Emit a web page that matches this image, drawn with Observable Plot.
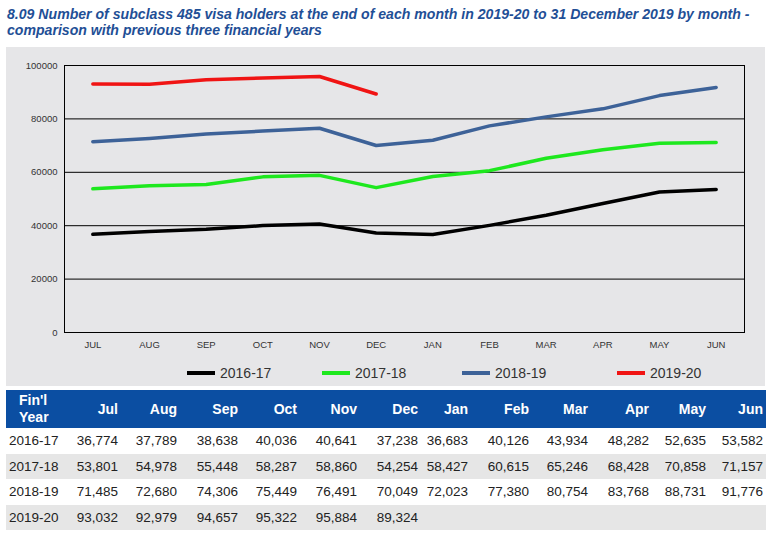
<!DOCTYPE html>
<html><head><meta charset="utf-8">
<script src="https://cdn.jsdelivr.net/npm/d3@7"></script>
<script src="https://cdn.jsdelivr.net/npm/@observablehq/plot@0.6"></script>
<style>
body{margin:0;background:#fff;font-family:Arial,"Liberation Sans",sans-serif;}
#wrap{position:relative;width:773px;height:539px;overflow:hidden;}
.title{position:absolute;left:7px;color:#1f4f96;font-weight:bold;font-style:italic;font-size:14.1px;line-height:16px;white-space:nowrap;}
#panel{position:absolute;left:6px;top:47px;width:759px;height:339px;background:#e6e6e8;}
#chart{position:absolute;left:0;top:0;}
.leg{position:absolute;top:318px;height:16px;display:flex;align-items:center;font-size:14px;color:#333;}
.leg span.sw{display:inline-block;width:28px;height:4px;margin-right:5px;}
#tbl{position:absolute;left:6px;top:390px;border-collapse:collapse;table-layout:fixed;}
#tbl th{background:#0b4ea2;color:#fff;font-weight:bold;font-size:14px;height:38px;padding:0 3px 0 0;text-align:right;line-height:17px;}
#tbl th.first{text-align:left;padding-left:13px;}
#tbl td{font-size:13.5px;color:#222;height:25.5px;padding:0 3px 0 0;text-align:right;}
#tbl td.first{text-align:left;padding-left:3px;}
#tbl tr.alt td{background:#e6e6e6;}
</style>
</head><body>
<div id="wrap">
  <div class="title" style="top:6px;width:770px;">8.09 Number of subclass 485 visa holders at the end of each month in 2019-20 to 31 December 2019 by month -</div>
  <div class="title" style="top:22px;">comparison with previous three financial years</div>
  <div id="panel"><div id="chart"></div></div>
  <table id="tbl"></table>
</div>
<script>
const months = ["JUL","AUG","SEP","OCT","NOV","DEC","JAN","FEB","MAR","APR","MAY","JUN"];
const monthHeaders = ["Jul","Aug","Sep","Oct","Nov","Dec","Jan","Feb","Mar","Apr","May","Jun"];
const years = ["2016-17","2017-18","2018-19","2019-20"];
const v2016 = [36774,37789,38638,40036,40641,37238,36683,40126,43934,48282,52635,53582];
const v2017 = [53801,54978,55448,58287,58860,54254,58427,60615,65246,68428,70858,71157];
const v2018 = [71485,72680,74306,75449,76491,70049,72023,77380,80754,83768,88731,91776];
const v2019 = [93032,92979,94657,95322,95884,89324];
const yTicks = [0,20000,40000,60000,80000,100000];

const seriesValues = [v2016, v2017, v2018, v2019];
const colors = ["#000000","#1ee81e","#3d6298","#f01414"];

const data = [];
seriesValues.forEach((vals, i) => vals.forEach((v, j) => data.push({year: years[i], month: months[j], value: v})));

const chart = Plot.plot({
  width: 759, height: 307,
  marginLeft: 58, marginRight: 21, marginTop: 18, marginBottom: 22,
  style: {background: "transparent", fontFamily: "Arial, 'Liberation Sans', sans-serif", fontSize: "9.5px", color: "#333"},
  x: {type: "point", domain: months, padding: 0.5, round: false, label: null, tickSize: 0, tickPadding: 9},
  y: {domain: [0, 100000], ticks: yTicks, tickFormat: d3.format("d"), label: null, tickSize: 0, tickPadding: 7},
  color: {domain: years, range: colors},
  marks: [
    Plot.ruleY(yTicks.filter(d => d > 0 && d < 100000), {stroke: "#000", strokeWidth: 1}),
    Plot.frame({stroke: "#000", strokeWidth: 1}),
    Plot.line(data, {x: "month", y: "value", z: "year", stroke: "year", strokeWidth: 3.5})
  ]
});
document.getElementById("chart").appendChild(chart);

// legend
const legLeft = [181, 316, 456, 611];
const panel = document.getElementById("panel");
years.forEach((y, i) => {
  const d = document.createElement("div");
  d.className = "leg";
  d.style.left = legLeft[i] + "px";
  d.innerHTML = `<span class="sw" style="background:${colors[i]}"></span>${y}`;
  panel.appendChild(d);
});

// table
const colWidths = [56,59,59,61,59,60,61,50,61,59,61,57,57];
const tbl = document.getElementById("tbl");
const cg = document.createElement("colgroup");
colWidths.forEach(w => { const c = document.createElement("col"); c.style.width = w + "px"; cg.appendChild(c); });
tbl.appendChild(cg);
const fmt = d3.format(",");
let html = `<tr><th class="first">Fin'l<br>Year</th>` + monthHeaders.map(m => `<th>${m}</th>`).join("") + `</tr>`;
seriesValues.forEach((vals, i) => {
  html += `<tr class="${i % 2 ? "alt" : ""}"><td class="first">${years[i]}</td>` +
    monthHeaders.map((m, j) => `<td>${vals[j] !== undefined ? fmt(vals[j]) : ""}</td>`).join("") + `</tr>`;
});
tbl.insertAdjacentHTML("beforeend", html);
</script>
</body></html>
